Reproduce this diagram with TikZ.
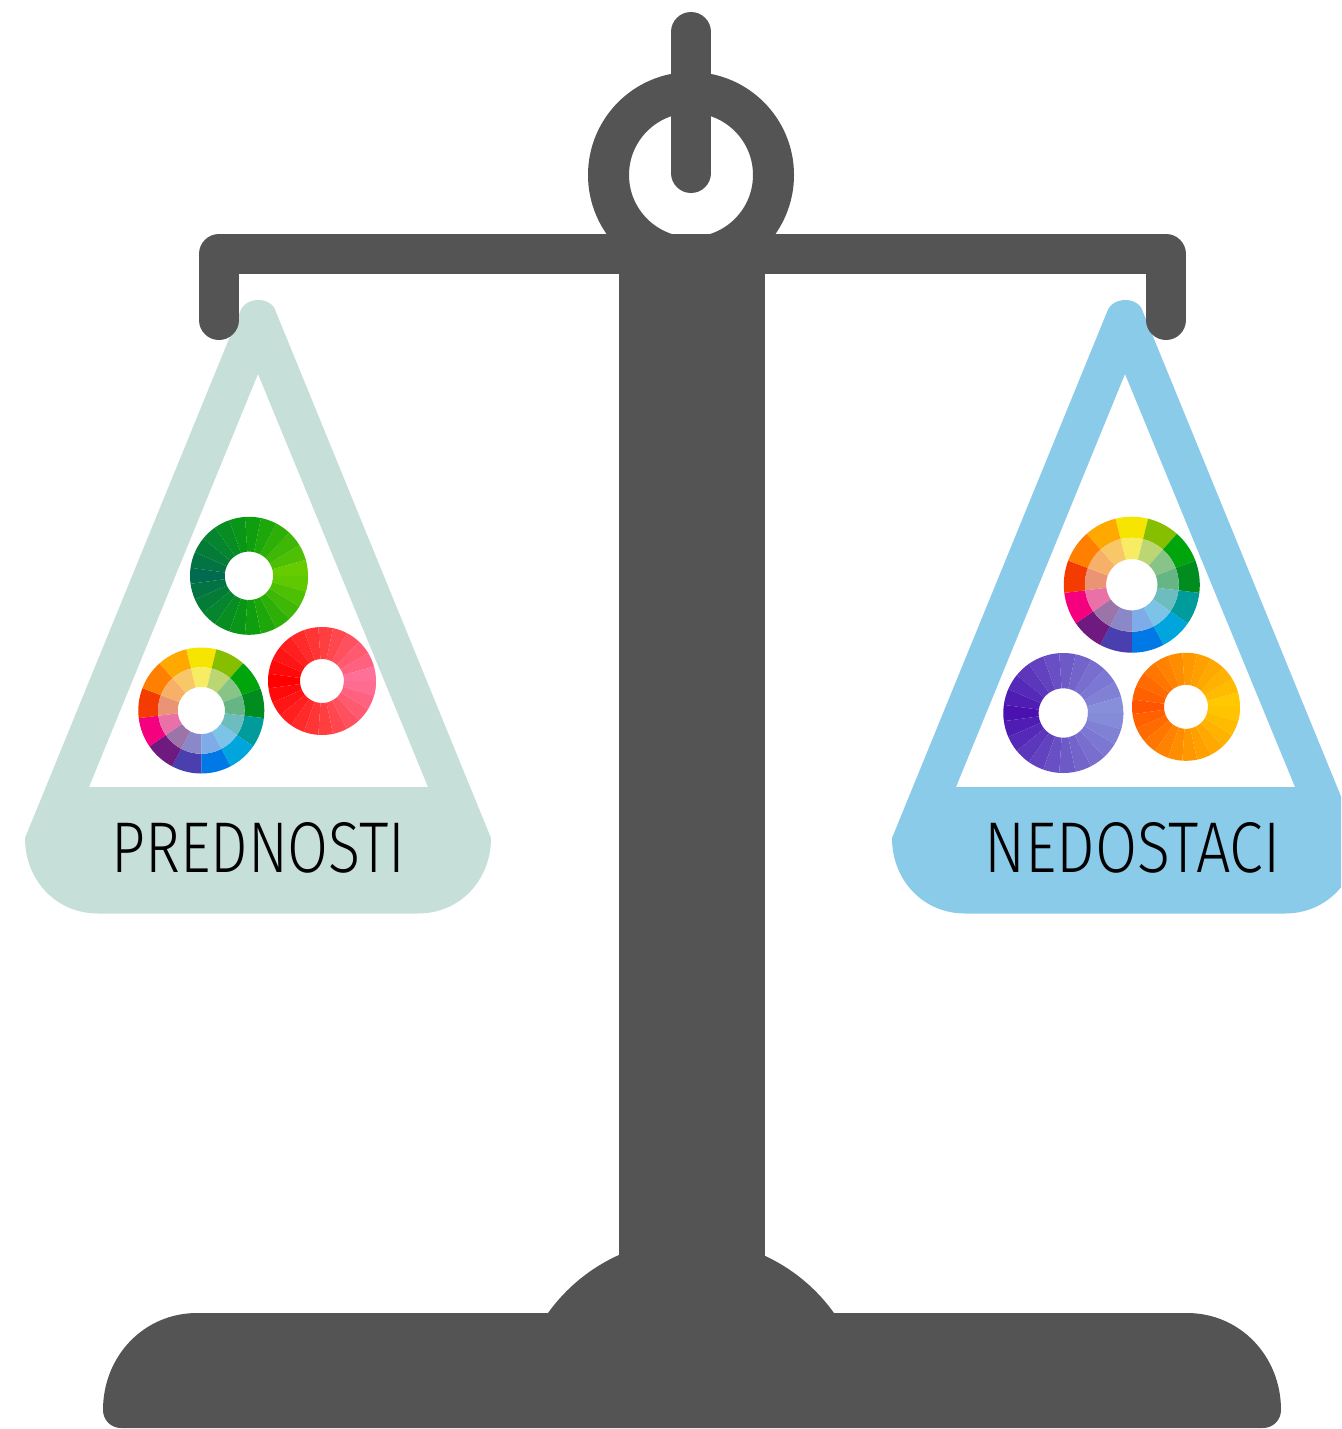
\documentclass[tikz,border=0pt]{standalone}
\usepackage{fontspec}
\newfontfamily\labfont{Fira Sans Light}
\definecolor{scaledark}{HTML}{545454}
\definecolor{panmint}{HTML}{C7DFD9}
\definecolor{panblue}{HTML}{8BCBEA}
\definecolor{gL}{HTML}{006B4F}\definecolor{gT}{HTML}{0A9C0E}\definecolor{gR}{HTML}{66CC00}
\definecolor{rL}{HTML}{FF0000}\definecolor{rT}{HTML}{FF3C3C}\definecolor{rR}{HTML}{FF7099}
\definecolor{pL}{HTML}{4A11B0}\definecolor{pT}{HTML}{6C58C6}\definecolor{pR}{HTML}{878FDB}
\definecolor{oL}{HTML}{FF5500}\definecolor{oT}{HTML}{FF9500}\definecolor{oR}{HTML}{FFC800}
% ring wedge: inner radius, outer radius, start, end, colour
\newcommand{\ringwedge}[5]{%
  \fill[#5] (#3:#1pt) -- (#3:#2pt) arc[start angle=#3,end angle=#4,radius=#2pt]
    -- (#4:#1pt) arc[start angle=#4,end angle=#3,radius=#1pt] -- cycle;}
% monochrome wheel: cx, cy, R, r, left, top, right colours
\newcommand{\monowheel}[7]{%
  \begin{scope}[shift={(#1,#2)}]
    \pgfmathsetmacro{\stp}{360/23}
    \ringwedge{#4}{#3}{-\stp}{\stp}{#7}
    \foreach \k in {1,...,22}{
      \pgfmathsetmacro{\aa}{\k*\stp}
      \pgfmathsetmacro{\bb}{(\k+1)*\stp}
      \pgfmathsetmacro{\tt}{abs((\k+.5)*\stp-180)/180}
      \pgfmathsetmacro{\pa}{min(\tt*200,100)}
      \pgfmathsetmacro{\pb}{max((\tt-.5)*200,0)}
      \ifdim\tt pt<.5pt
        \colorlet{wc}{#6!\pa!#5}
      \else
        \colorlet{wc}{#7!\pb!#6}
      \fi
      \ringwedge{#4}{#3}{\aa}{\bb}{wc}
    }
  \end{scope}}
% rainbow wheel: cx, cy, R, mid, r
\newcommand{\rainbowwheel}[5]{%
  \begin{scope}[shift={(#1,#2)}]
    \pgfmathsetmacro{\stp}{360/13}
    \foreach \cc/\dd [count=\k from 0] in {
      F5E500/F7EC62,85BF00/BCD673,00A50C/88C487,008C1E/66B585,009B9B/6DBDBF,
      00A5DE/7CC3E8,0078E6/7EACE8,4A3FAE/8A88C8,6E1A80/9B75A8,F5007E/EA70A8,
      F53C00/EA9375,FF7F00/F6B068,FFA800/F8C868}{
      \pgfmathsetmacro{\aa}{90+\stp/2-\k*\stp}
      \pgfmathsetmacro{\bb}{90-\stp/2-\k*\stp}
      \definecolor{wo}{HTML}{\cc}
      \definecolor{wi}{HTML}{\dd}
      \ringwedge{#4}{#3}{\bb}{\aa}{wo}
      \ringwedge{#5}{#4}{\bb}{\aa}{wi}
    }
  \end{scope}}
\begin{document}
\begin{tikzpicture}[x=1pt,y=-1pt,
  scaleline/.style={draw=scaledark,line width=40pt,line cap=round,line join=round},
  scalefill/.style={fill=scaledark},
  panlabel/.style={inner sep=0pt,text=black}]
\useasboundingbox (0,0) rectangle (1341,1429);
\clip (0,0) rectangle (1341,1429);
\fill[white] (0,0) rectangle (1341,1429);

% pans (beneath the beam)
\foreach \dx/\pc in {0/panmint,867/panblue}{
  \fill[\pc,even odd rule,shift={(\dx,0)}]
    (25,838) -- (240,312) .. controls (245,296) and (272,296) .. (276,312)
    -- (491,838) .. controls (491,880) and (460,913.5) .. (418,913.5)
    -- (98,913.5) .. controls (56,913.5) and (25,880) .. (25,838) -- cycle
    (258,374) -- (89,787) -- (428,787) -- cycle;
}

% base
\fill[scalefill] (103,1410) .. controls (103,1356) and (144,1313) .. (197,1313)
  -- (1187,1313) .. controls (1240,1313) and (1281,1356) .. (1281,1410)
  .. controls (1281,1420) and (1273,1428) .. (1263,1428)
  -- (121,1428) .. controls (111,1428) and (103,1420) .. (103,1410) -- cycle;
\begin{scope}
  \clip (400,1200) rectangle (1000,1400);
  \fill[scalefill] (691,1415.6) circle[radius=176pt];
\end{scope}
% post
\fill[scalefill] (619,240) rectangle (765,1340);
% ring
\draw[scaledark,line width=41pt] (691,175) circle[radius=82.5pt];
% hanger
\draw[scaleline] (691,32) -- (691,173);
% beam
\draw[scaleline] (219,320) -- (219,254) -- (1166,254) -- (1166,320);

% wheels
\monowheel{249}{575.8}{59}{24.2}{gL}{gT}{gR}
\monowheel{322}{681}{54}{22}{rL}{rT}{rR}
\rainbowwheel{201.3}{710.5}{63}{43.3}{23.7}
\rainbowwheel{1131.8}{584.7}{68}{47}{25.7}
\monowheel{1063.3}{713}{60}{24.7}{pL}{pT}{pR}
\monowheel{1186}{706.8}{54}{22}{oL}{oT}{oR}

% labels
\node[panlabel] (pred) at (258.5,847.5) {\resizebox{294pt}{50pt}{\labfont PREDNOSTI}};
\node[panlabel] (nedo) at (1132.5,847.5) {\resizebox{296pt}{50pt}{\labfont NEDOSTACI}};
\end{tikzpicture}
\end{document}
